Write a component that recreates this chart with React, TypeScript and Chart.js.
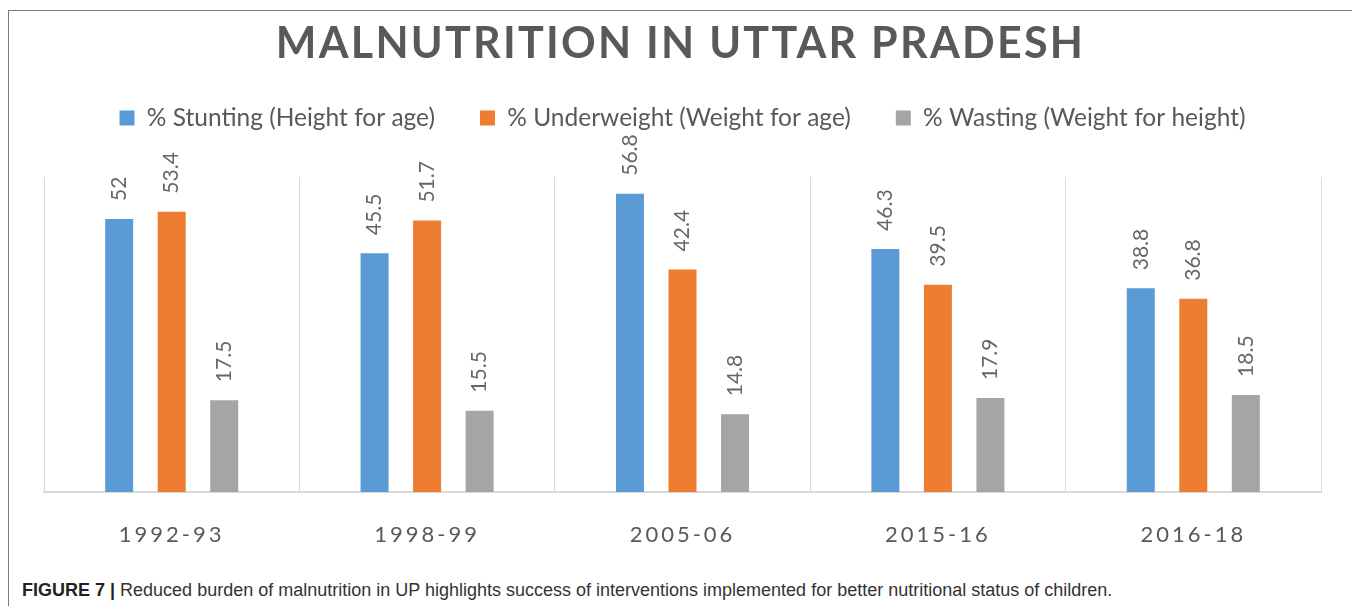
import React, { useEffect, useRef } from "react";
import { Chart, registerables } from "chart.js";

Chart.register(...registerables);

const TITLE = "MALNUTRITION IN UTTAR PRADESH";
const CATEGORIES = ["1992-93", "1998-99", "2005-06", "2015-16", "2016-18"];
const SERIES_NAMES = [
  "% Stunting (Height for age)",
  "% Underweight (Weight for age)",
  "% Wasting (Weight for height)",
];
const STUNTING = [52, 45.5, 56.8, 46.3, 38.8];
const UNDERWEIGHT = [53.4, 51.7, 42.4, 39.5, 36.8];
const WASTING = [17.5, 15.5, 14.8, 17.9, 18.5];
const SERIES_COLORS = ["#5b9bd5", "#ed7d31", "#a5a5a5"];
const Y_MAX = 60;
const CAPTION_LEAD = "FIGURE 7 |";
const CAPTION_TEXT =
  "Reduced burden of malnutrition in UP highlights success of interventions implemented for better nutritional status of children.";

const CANVAS_W = 1347;
const CANVAS_H = 560;

const legendGap = {
  id: "legendGap",
  beforeInit(chart: any) {
    const legend = chart.legend;
    if (!legend) return;
    const orig = legend.fit;
    legend.fit = function () {
      orig.call(this);
      this.height += 36.75;
    };
  },
};

const textPlugin = {
  id: "customText",
  afterDatasetsDraw(chart: any) {
    const ctx = chart.ctx as CanvasRenderingContext2D;
    chart.data.datasets.forEach((ds: any, di: number) => {
      const meta = chart.getDatasetMeta(di);
      meta.data.forEach((bar: any, i: number) => {
        const { x, y } = bar.getProps(["x", "y"], true);
        ctx.save();
        ctx.translate(x, y - 18);
        ctx.rotate(-Math.PI / 2);
        ctx.font = "21px Lato";
        ctx.fillStyle = "#666666";
        ctx.textAlign = "left";
        ctx.textBaseline = "middle";
        ctx.fillText(String(ds.data[i]), 0, 0);
        ctx.restore();
      });
    });
  },
  afterDraw(chart: any) {
    const ctx = chart.ctx as any;
    // Title
    ctx.save();
    ctx.font = "bold 43px Lato";
    ctx.fillStyle = "#595959";
    ctx.textAlign = "center";
    ctx.textBaseline = "alphabetic";
    ctx.letterSpacing = "2.25px";
    ctx.fillText(TITLE, chart.width / 2 - 2, 47.3);
    ctx.restore();
    // Category labels
    const xs = chart.scales.x;
    ctx.save();
    ctx.font = "22px Lato";
    ctx.fillStyle = "#595959";
    ctx.textAlign = "center";
    ctx.textBaseline = "alphabetic";
    ctx.letterSpacing = "3px";
    CATEGORIES.forEach((c, i) => {
      const x = xs.getPixelForTick(i);
      ctx.fillText(c, x, 530.5);
    });
    ctx.restore();
  },
};

export default function App() {
  const canvasRef = useRef<HTMLCanvasElement | null>(null);

  useEffect(() => {
    if (!canvasRef.current) return;
    const seriesValues = [STUNTING, UNDERWEIGHT, WASTING];
    const chart = new Chart(canvasRef.current, {
      type: "bar",
      data: {
        labels: CATEGORIES,
        datasets: SERIES_NAMES.map((name, i) => ({
          label: name,
          data: seriesValues[i],
          backgroundColor: SERIES_COLORS[i],
          borderWidth: 0,
          categoryPercentage: 0.617,
          barPercentage: 0.533,
        })),
      },
      options: {
        animation: false,
        responsive: true,
        maintainAspectRatio: false,
        events: [],
        layout: {
          padding: { top: 49.75, left: 35, right: 35, bottom: 79 },
        },
        plugins: {
          title: { display: false },
          tooltip: { enabled: false },
          legend: {
            display: true,
            position: "top",
            align: "center",
            labels: {
              boxWidth: 15,
              boxHeight: 15,
              padding: 45,
              color: "#595959",
              font: { family: "Lato", size: 24.5 },
            },
          },
        },
        scales: {
          x: {
            display: true,
            grid: {
              display: true,
              offset: true,
              color: "#d9d9d9",
              lineWidth: 1,
              drawTicks: false,
            },
            border: { display: true, color: "#d9d9d9", width: 2 },
            ticks: { display: false },
          },
          y: {
            display: false,
            min: 0,
            max: Y_MAX,
          },
        },
      },
      plugins: [legendGap, textPlugin],
    });
    return () => chart.destroy();
  }, []);

  return (
    <>
      <style>{`html,body{overflow:hidden;}`}</style>
      <div
        style={{
          position: "relative",
          top: 2,
          width: 1349,
          height: 600,
          boxSizing: "border-box",
          borderTop: "1px solid #7a7a7a",
          borderLeft: "1px solid #7a7a7a",
          borderRight: "1px solid #7a7a7a",
          background: "#ffffff",
        }}
      >
        <div
          style={{
            position: "absolute",
            left: 0,
            top: 0,
            width: CANVAS_W,
            height: CANVAS_H,
          }}
        >
          <canvas ref={canvasRef} />
        </div>
        <div
          style={{
            position: "absolute",
            left: 13,
            top: 570,
            whiteSpace: "nowrap",
            fontFamily: "'Liberation Sans', Arial, sans-serif",
            fontSize: 18,
            lineHeight: "18px",
            color: "#333333",
          }}
        >
          <span style={{ fontWeight: "bold", color: "#231f20" }}>{CAPTION_LEAD}</span>{" "}
          {CAPTION_TEXT}
        </div>
      </div>
    </>
  );
}
